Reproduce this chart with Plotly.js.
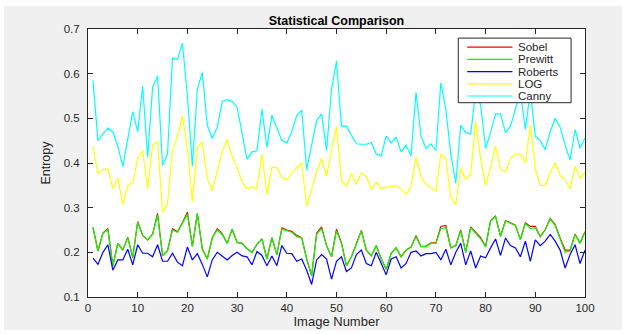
<!DOCTYPE html>
<html>
<head>
<meta charset="utf-8">
<script src="https://cdn.plot.ly/plotly-3.0.1.min.js"></script>
<style>
html,body{margin:0;padding:0;background:#ffffff;}
#wrap{position:relative;width:633px;height:334px;background:#ffffff;overflow:hidden;}
#chart{position:absolute;left:4px;top:6px;width:618px;height:324px;}
</style>
</head>
<body>
<div id="wrap"><div id="chart"></div></div>
<script>
const imageNumber = Array.from({length: 100}, (_, i) => i + 1);

const seriesNames = ["Sobel", "Prewitt", "Roberts", "LOG", "Canny"];

const sobel = [0.256,0.203,0.243,0.253,0.170,0.220,0.205,0.234,0.188,0.269,
0.238,0.228,0.241,0.287,0.193,0.203,0.253,0.246,0.266,0.290,
0.213,0.287,0.208,0.185,0.232,0.253,0.242,0.220,0.252,0.222,
0.220,0.208,0.200,0.218,0.230,0.185,0.233,0.195,0.255,0.250,
0.247,0.238,0.233,0.185,0.148,0.243,0.257,0.215,0.190,0.252,
0.221,0.170,0.190,0.218,0.249,0.205,0.192,0.215,0.185,0.162,
0.198,0.210,0.190,0.205,0.212,0.237,0.213,0.214,0.221,0.221,
0.258,0.260,0.210,0.215,0.250,0.200,0.257,0.245,0.233,0.213,
0.271,0.281,0.236,0.271,0.266,0.261,0.229,0.266,0.258,0.258,
0.235,0.251,0.276,0.262,0.232,0.205,0.205,0.241,0.221,0.246];

const prewitt = [0.256,0.203,0.243,0.250,0.170,0.220,0.205,0.233,0.188,0.268,
0.238,0.228,0.240,0.283,0.193,0.203,0.250,0.245,0.265,0.285,
0.213,0.287,0.207,0.185,0.232,0.250,0.240,0.220,0.252,0.222,
0.220,0.208,0.200,0.218,0.230,0.185,0.233,0.195,0.252,0.248,
0.245,0.235,0.232,0.185,0.148,0.240,0.253,0.215,0.190,0.248,
0.220,0.170,0.190,0.218,0.248,0.205,0.192,0.215,0.185,0.162,
0.198,0.210,0.190,0.205,0.212,0.235,0.213,0.213,0.220,0.220,
0.253,0.255,0.210,0.215,0.248,0.200,0.255,0.243,0.230,0.212,
0.270,0.280,0.236,0.270,0.265,0.260,0.228,0.265,0.253,0.255,
0.235,0.250,0.275,0.260,0.230,0.200,0.203,0.240,0.220,0.245];

const roberts = [0.187,0.173,0.200,0.217,0.160,0.183,0.183,0.207,0.172,0.217,
0.198,0.198,0.190,0.217,0.180,0.180,0.198,0.178,0.170,0.212,
0.183,0.197,0.173,0.145,0.183,0.200,0.192,0.183,0.193,0.200,
0.192,0.190,0.172,0.202,0.193,0.170,0.192,0.170,0.215,0.198,
0.197,0.180,0.185,0.160,0.128,0.183,0.195,0.185,0.140,0.180,
0.190,0.157,0.165,0.195,0.205,0.175,0.170,0.200,0.175,0.150,
0.185,0.190,0.165,0.175,0.200,0.203,0.192,0.197,0.197,0.200,
0.183,0.207,0.172,0.200,0.220,0.172,0.203,0.165,0.192,0.188,
0.210,0.230,0.193,0.232,0.215,0.210,0.190,0.225,0.180,0.228,
0.215,0.225,0.240,0.225,0.205,0.165,0.195,0.217,0.175,0.205];

const logVals = [0.437,0.377,0.385,0.387,0.343,0.367,0.307,0.350,0.355,0.410,
0.428,0.342,0.440,0.448,0.290,0.310,0.430,0.460,0.505,0.435,
0.312,0.435,0.447,0.365,0.338,0.380,0.425,0.452,0.415,0.390,
0.357,0.342,0.347,0.342,0.420,0.330,0.390,0.390,0.368,0.362,
0.378,0.390,0.400,0.303,0.340,0.380,0.410,0.370,0.430,0.482,
0.360,0.348,0.377,0.352,0.378,0.370,0.340,0.357,0.343,0.346,
0.347,0.350,0.342,0.330,0.347,0.413,0.370,0.352,0.345,0.337,
0.420,0.410,0.322,0.307,0.388,0.363,0.376,0.492,0.410,0.350,
0.390,0.437,0.385,0.380,0.410,0.420,0.420,0.400,0.485,0.387,
0.350,0.350,0.378,0.400,0.372,0.363,0.342,0.393,0.365,0.380];

const canny = [0.585,0.450,0.465,0.478,0.470,0.437,0.392,0.450,0.515,0.470,
0.572,0.413,0.570,0.595,0.395,0.420,0.635,0.632,0.668,0.550,
0.393,0.565,0.603,0.485,0.455,0.480,0.538,0.542,0.538,0.525,
0.465,0.408,0.425,0.427,0.520,0.435,0.507,0.478,0.450,0.445,
0.470,0.507,0.518,0.385,0.440,0.495,0.510,0.428,0.565,0.628,
0.482,0.483,0.462,0.443,0.442,0.442,0.446,0.420,0.416,0.460,
0.445,0.458,0.425,0.440,0.416,0.558,0.460,0.433,0.443,0.428,
0.580,0.520,0.420,0.355,0.485,0.468,0.465,0.560,0.530,0.433,
0.468,0.510,0.510,0.468,0.482,0.520,0.560,0.475,0.560,0.460,
0.450,0.430,0.470,0.500,0.480,0.440,0.407,0.475,0.433,0.456];

const seriesValues = [sobel, prewitt, roberts, logVals, canny];
const seriesColors = ["#ff0000", "#00ff00", "#0000ff", "#ffff00", "#00ffff"];

const xTicks = [0,10,20,30,40,50,60,70,80,90,100];
const yTicks = [0.1,0.2,0.3,0.4,0.5,0.6,0.7];

const traces = seriesNames.map((name, k) => ({
  x: imageNumber,
  y: seriesValues[k],
  name: name,
  type: "scatter",
  mode: "lines",
  line: {color: seriesColors[k], width: 1.2},
  showlegend: false,
  hoverinfo: "skip"
}));

// Custom MATLAB-style legend (paper coordinates)
const lgX0 = 0.745, lgX1 = 0.972, lgY1 = 0.966, lgY0 = 0.725;
const shapes = [{
  type: "rect", xref: "paper", yref: "paper",
  x0: lgX0, x1: lgX1, y0: lgY0, y1: lgY1,
  fillcolor: "#ffffff", line: {color: "#262626", width: 1}, layer: "above"
}];
const annotations = [];
seriesNames.forEach((name, k) => {
  const yy = lgY1 - 0.034 - k * 0.0455;
  shapes.push({
    type: "line", xref: "paper", yref: "paper",
    x0: lgX0 + 0.018, x1: lgX0 + 0.109, y0: yy, y1: yy,
    line: {color: seriesColors[k], width: 1.2}, layer: "above"
  });
  annotations.push({
    xref: "paper", yref: "paper", x: lgX0 + 0.117, y: yy,
    xanchor: "left", yanchor: "middle", showarrow: false,
    text: name, font: {family: "Liberation Sans, Arial, sans-serif", size: 11.5, color: "#262626"}
  });
});

const axisCommon = {
  showgrid: false, zeroline: false,
  showline: true, linecolor: "#262626", linewidth: 1, mirror: "allticks",
  ticks: "inside", ticklen: 5, tickcolor: "#262626", tickwidth: 1,
  tickfont: {family: "Liberation Sans, Arial, sans-serif", size: 11.5, color: "#262626"}
};

const layout = {
  width: 618, height: 324,
  paper_bgcolor: "#f0f0f0", plot_bgcolor: "#ffffff",
  margin: {l: 84, r: 37, t: 23, b: 33},
  title: {text: "<b>Statistical Comparison</b>", x: 0.5, xref: "paper", xanchor: "center",
          y: 1, yref: "paper", yanchor: "bottom", pad: {b: 4},
          font: {family: "Liberation Sans, Arial, sans-serif", size: 12.5, color: "#000000"}},
  xaxis: Object.assign({}, axisCommon, {
    range: [0, 100], tickvals: xTicks, ticktext: xTicks.map(String),
    ticklabelstandoff: 0,
    title: {text: "Image Number", standoff: 1,
            font: {family: "Liberation Sans, Arial, sans-serif", size: 13, color: "#262626"}}
  }),
  yaxis: Object.assign({}, axisCommon, {
    range: [0.1, 0.7], tickvals: yTicks, ticktext: yTicks.map(v => v.toFixed(1)),
    ticklabelstandoff: 5,
    title: {text: "Entropy", standoff: 10,
            font: {family: "Liberation Sans, Arial, sans-serif", size: 12.5, color: "#262626"}}
  }),
  shapes: shapes,
  annotations: annotations,
  showlegend: false
};

Plotly.newPlot("chart", traces, layout, {displayModeBar: false, staticPlot: true});
</script>
</body>
</html>
